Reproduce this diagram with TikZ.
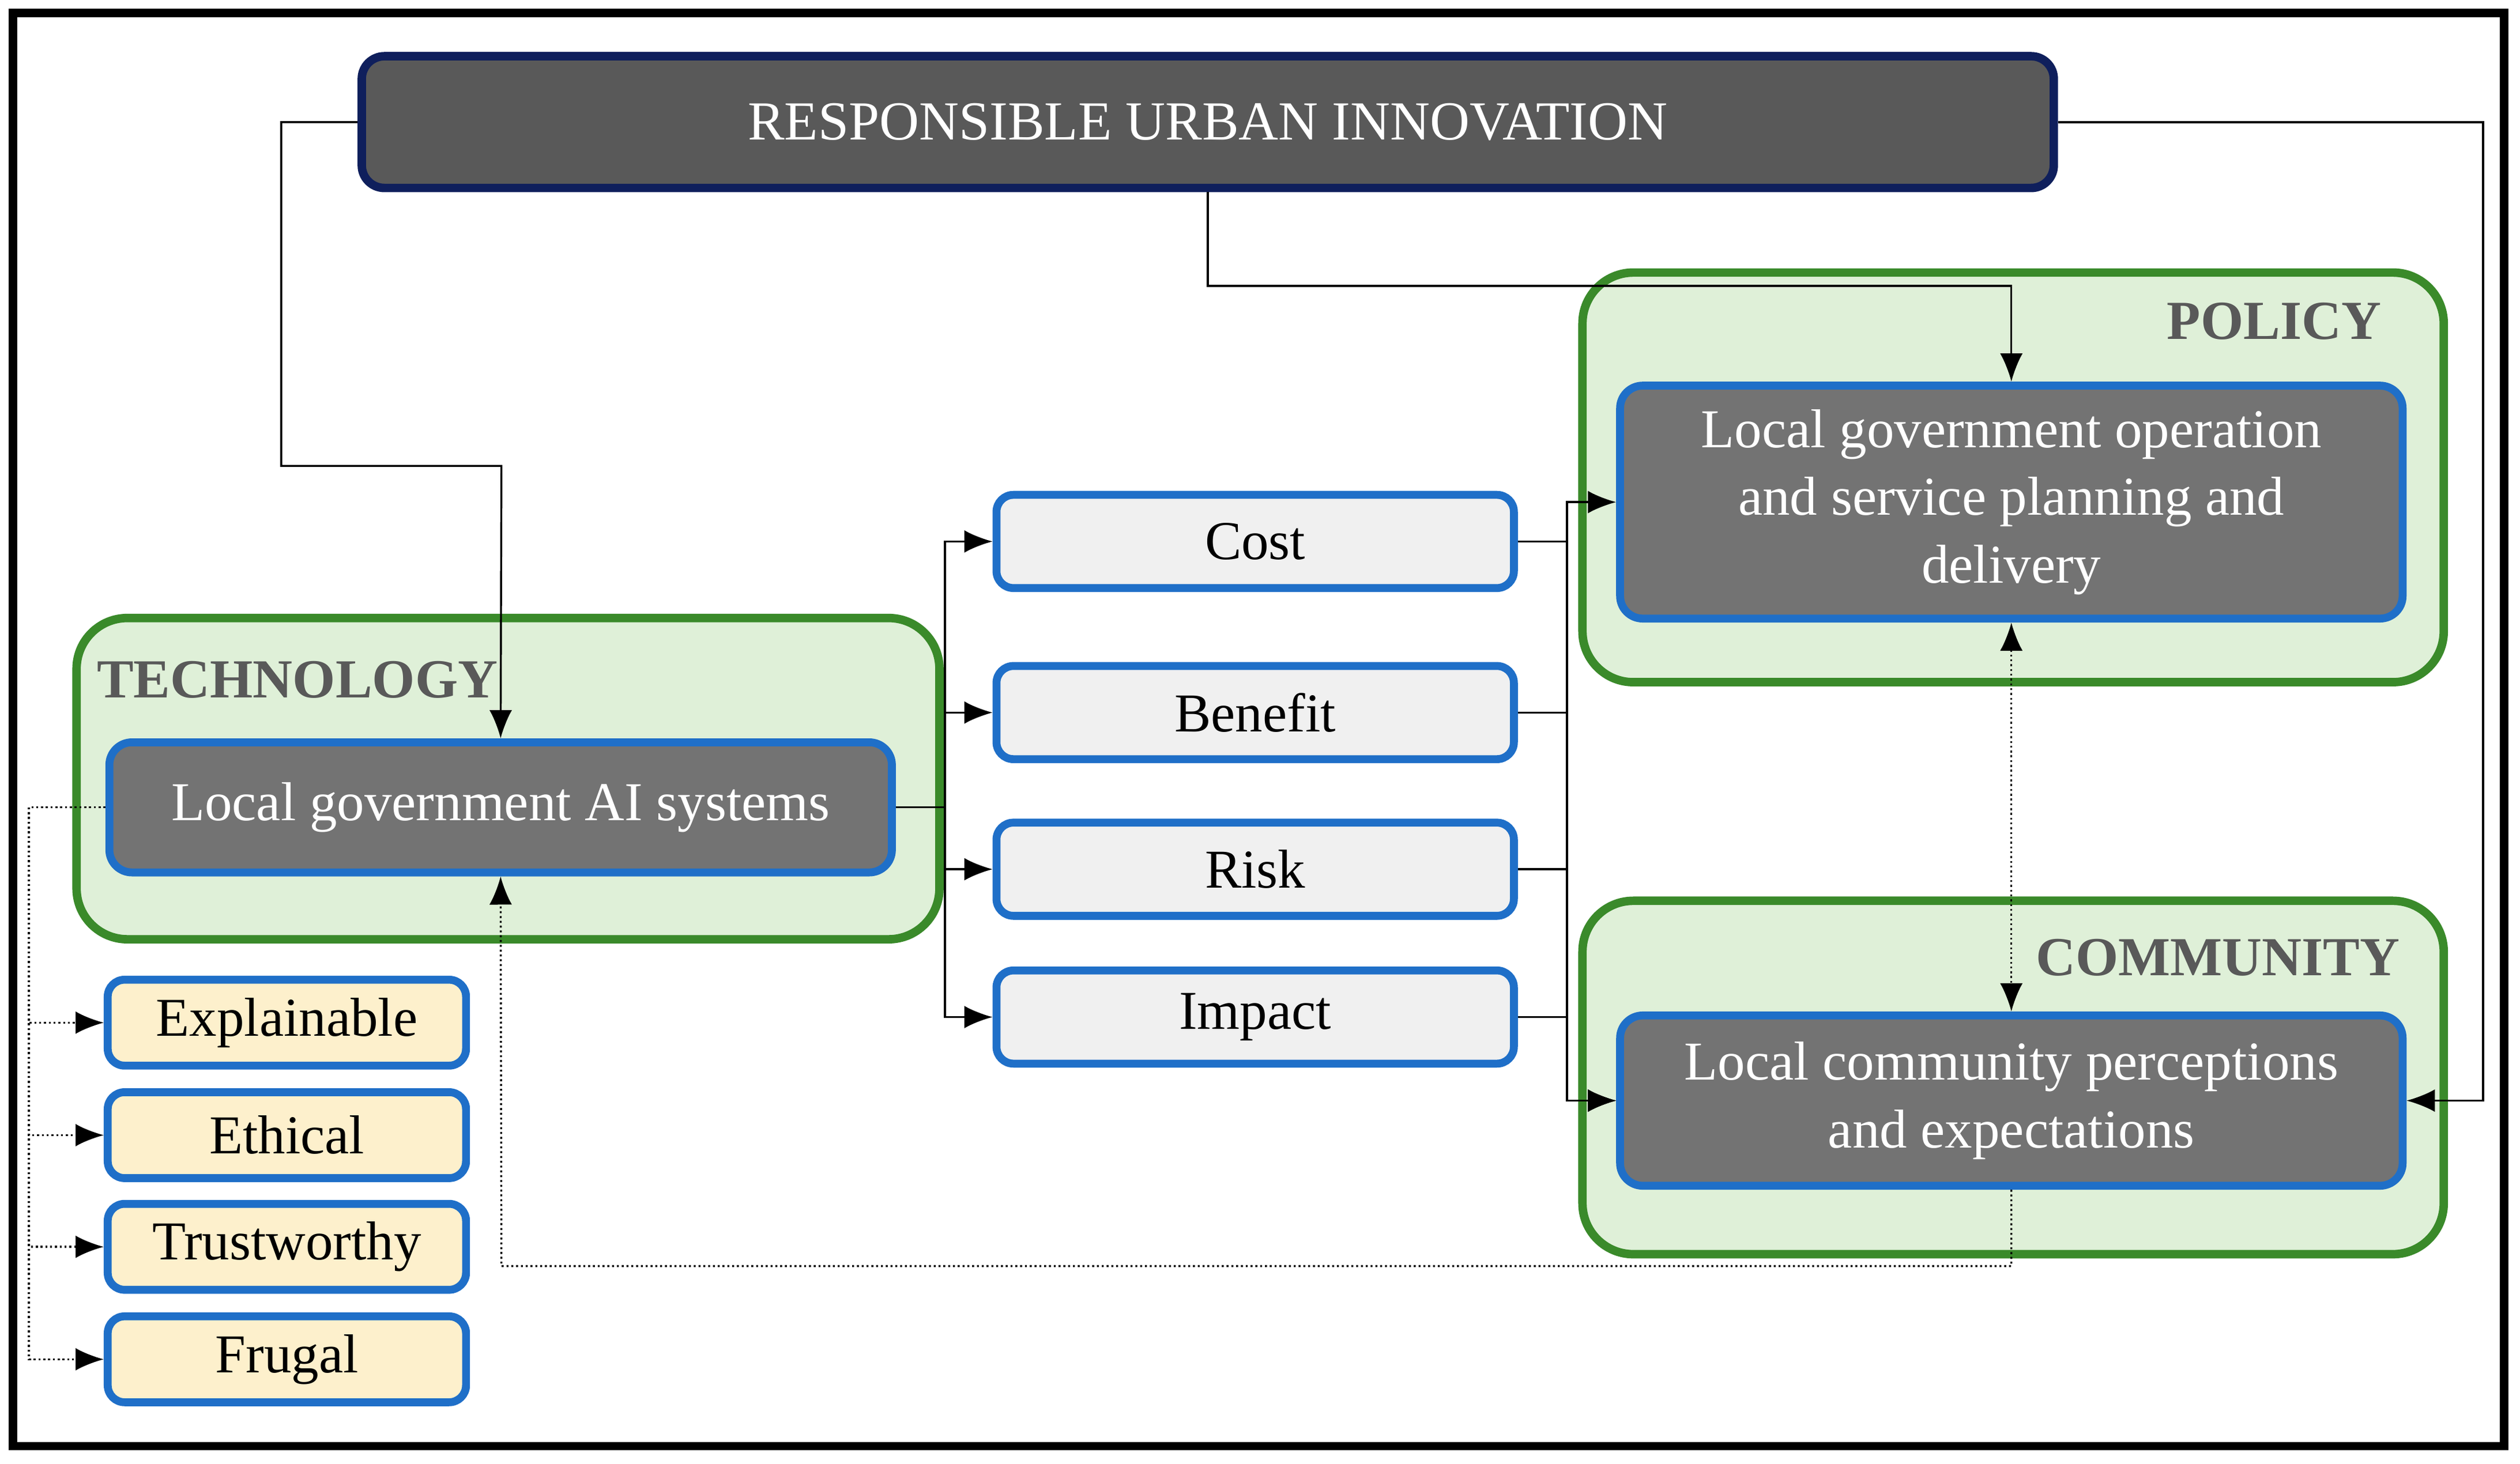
\documentclass[tikz,border=0pt]{standalone}
\usepackage{fontspec}
\setmainfont{Liberation Serif}
\usetikzlibrary{arrows.meta}
\definecolor{bblue}{HTML}{1F6FC8}
\definecolor{ggreen}{HTML}{3A8A2A}
\definecolor{gfill}{HTML}{DFF0D8}
\definecolor{navy}{HTML}{0F1F5C}
\definecolor{yfill}{HTML}{FDF0CC}
\begin{document}
\begin{tikzpicture}[x=0.02cm,y=-0.02cm,
  grp/.style={draw=ggreen,line width=3pt,fill=gfill,rounded corners=18pt,anchor=north west,inner sep=0},
  grplab/.style={font=\fontsize{19.5}{22}\selectfont\bfseries,text=black!65},
  dark/.style={draw=bblue,line width=2.8pt,fill=black!55,rounded corners=8pt,text=white,align=center,font=\fontsize{19.4}{24}\selectfont,inner sep=0},
  light/.style={draw=bblue,line width=2.8pt,fill=black!6,rounded corners=6pt,font=\fontsize{19.4}{22}\selectfont,inner sep=0,minimum width=6.44cm,minimum height=1.16cm},
  yel/.style={draw=bblue,line width=2.8pt,fill=yfill,rounded corners=6pt,font=\fontsize{19.4}{22}\selectfont,inner sep=0,minimum width=4.46cm,minimum height=1.07cm},
  arr/.style={-{Latex[length=10pt,width=8pt]},line width=0.7pt},
  dot/.style={arr,densely dotted},
  dotb/.style={{Latex[length=10pt,width=8pt]}-{Latex[length=10pt,width=8pt]},line width=0.7pt,densely dotted}]
\useasboundingbox (0,0) rectangle (1568,911);
\draw[line width=3pt] (8,8) rectangle (1558,900);
% groups
\node[grp,minimum width=10.72cm,minimum height=5.1cm] (pg) at (982,167) {};
\node[grp,minimum width=10.72cm,minimum height=4.4cm] (cg) at (982,558) {};
\node[grp,minimum width=10.74cm,minimum height=4.0cm] (tg) at (45,382) {};
\node[grplab] (pl) at (1415,200) {POLICY};
\node[grplab] (cl) at (1380,596) {COMMUNITY};
\node[grplab] (tl) at (185,423) {TECHNOLOGY};
% title
\node[draw=navy,line width=3pt,fill=black!65,rounded corners=8pt,text=white,minimum width=21.06cm,minimum height=1.64cm,font=\fontsize{19.5}{22}\selectfont] (t) at (751.5,76) {RESPONSIBLE URBAN INNOVATION};
\node[dark,minimum width=9.74cm,minimum height=2.9cm] (p) at (1251.5,312.5) {Local government operation\\and service planning and\\delivery};
\node[dark,minimum width=9.74cm,minimum height=2.12cm] (c) at (1251.5,685) {Local community perceptions\\and expectations};
\node[dark,minimum width=9.74cm,minimum height=1.62cm] (ai) at (311.5,502.5) {Local government AI systems};
\node[light] (cost) at (781,337) {Cost};
\node[light] (ben) at (781,443.5) {Benefit};
\node[light] (risk) at (781,541) {Risk};
\node[light] (imp) at (781,633) {Impact};
\node[yel] (e1) at (178.5,636.5) {Explainable};
\node[yel] (e2) at (178.5,706.5) {Ethical};
\node[yel] (e3) at (178.5,776) {Trustworthy};
\node[yel] (e4) at (178.5,846) {Frugal};
% connectors
\draw[arr] (t.west) -- (175,76) -- (175,290) -- (312,290) -- (ai.north);
\draw[arr] (t.south) -- (751.5,178) -- (1251.5,178) -- (p.north);
\draw[arr] (t.east) -- (1545,76) -- (1545,685) -- (c.east);
\coordinate (sp) at (588,502.5);
\draw[line width=0.7pt] (ai.east) -- (sp);
\foreach \n in {cost,ben,risk,imp}{\draw[arr] (sp) |- (\n.west);}
\coordinate (jn) at (975,337);
\draw[line width=0.7pt] (cost.east) -- (jn);
\draw[arr] (jn) |- (p.west);
\foreach \n in {ben,risk,imp}{\draw[arr] (\n.east) -| (975,685) -- (c.west);}
\draw[line width=0.7pt] (975,312.5) -- (975,685);
\draw[dotb] (p.south) -- (c.north);
\draw[dot] (c.south) -- (1251.5,788) -- (312,788) -- (ai.south);
\coordinate (dl) at (18,502.5);
\draw[line width=0.7pt,densely dotted] (ai.west) -- (dl);
\foreach \n in {e1,e2,e3,e4}{\draw[dot] (dl) |- (\n.west);}
\end{tikzpicture}
\end{document}
